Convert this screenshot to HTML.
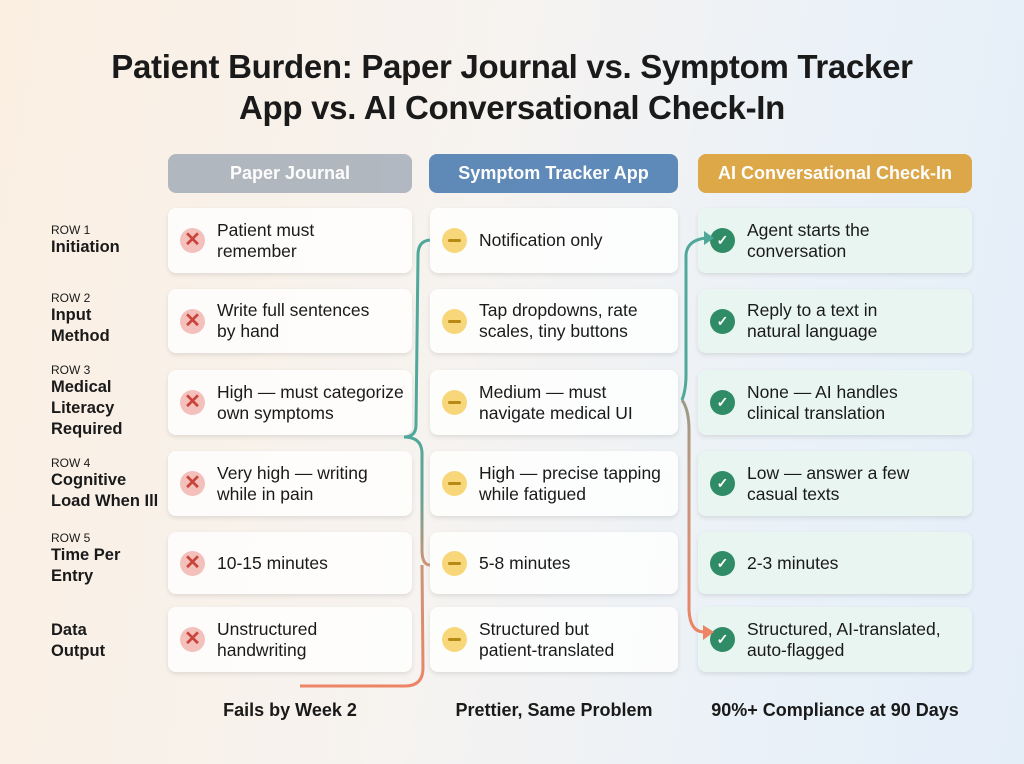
<!DOCTYPE html>
<html><head><meta charset="utf-8"><style>
*{margin:0;padding:0;box-sizing:border-box}
body{width:1024px;height:764px;overflow:hidden;font-family:"Liberation Sans",sans-serif;background:linear-gradient(100deg,#fbefe2 0%,#f6f3f0 45%,#eaf1f8 75%,#e4eef9 100%);position:relative;color:#1a1a1a}
.t{position:absolute;left:0;width:1024px;text-align:center;font-weight:bold;font-size:33px;line-height:41px;top:46px;letter-spacing:-0.3px}
.h{position:absolute;height:39px;border-radius:8px;color:#fff;font-weight:bold;font-size:18px;display:flex;align-items:center;justify-content:center;opacity:.9}
.c{position:absolute;border-radius:8px;background:rgba(255,255,255,.8);box-shadow:0 2px 5px rgba(0,0,0,.1);display:flex;align-items:center;font-size:17.5px;line-height:21px}
.c.g{background:rgba(232,246,240,.85)}
.i{width:25px;height:25px;border-radius:50%;margin:0 12px 0 12px;flex:none;display:flex;align-items:center;justify-content:center;font-weight:bold}
.x{background:#f4c0bb;color:#c9443a;font-size:20px}
.m{background:#f8d77a}
.m:after{content:"";width:13px;height:3px;background:#b88a14;border-radius:2px}
.k{background:#2f8c67;color:#fff;font-size:14px}
.l{position:absolute;left:51px;font-size:16.5px;font-weight:bold;line-height:21px}
.l small{display:block;font-size:12px;font-weight:normal;line-height:14px}
.f{position:absolute;top:700px;font-weight:bold;font-size:18px;text-align:center}
</style></head><body>
<div class="t">Patient Burden: Paper Journal vs. Symptom Tracker<br>App vs. AI Conversational Check-In</div>
<div class="h" style="left:168px;top:154px;width:244px;background:#a9b1bb">Paper Journal</div>
<div class="h" style="left:429px;top:154px;width:249px;background:#4f7fb3">Symptom Tracker App</div>
<div class="h" style="left:698px;top:154px;width:274px;background:#dba036">AI Conversational Check-In</div>

<div class="l" style="top:223px"><small>ROW 1</small>Initiation</div>
<div class="l" style="top:291px"><small>ROW 2</small>Input<br>Method</div>
<div class="l" style="top:363px"><small>ROW 3</small>Medical<br>Literacy<br>Required</div>
<div class="l" style="top:456px"><small>ROW 4</small>Cognitive<br>Load When Ill</div>
<div class="l" style="top:531px"><small>ROW 5</small>Time Per<br>Entry</div>
<div class="l" style="top:620px">Data<br>Output</div>

<div class="c" style="left:168px;top:208px;width:244px;height:65px"><span class="i x">✕</span>Patient must<br>remember</div>
<div class="c" style="left:168px;top:289px;width:244px;height:64px"><span class="i x">✕</span>Write full sentences<br>by hand</div>
<div class="c" style="left:168px;top:370px;width:244px;height:65px"><span class="i x">✕</span>High — must categorize<br>own symptoms</div>
<div class="c" style="left:168px;top:451px;width:244px;height:65px"><span class="i x">✕</span>Very high — writing<br>while in pain</div>
<div class="c" style="left:168px;top:532px;width:244px;height:62px"><span class="i x">✕</span>10-15 minutes</div>
<div class="c" style="left:168px;top:607px;width:244px;height:65px"><span class="i x">✕</span>Unstructured<br>handwriting</div>

<div class="c" style="left:430px;top:208px;width:248px;height:65px"><span class="i m"></span>Notification only</div>
<div class="c" style="left:430px;top:289px;width:248px;height:64px"><span class="i m"></span>Tap dropdowns, rate<br>scales, tiny buttons</div>
<div class="c" style="left:430px;top:370px;width:248px;height:65px"><span class="i m"></span>Medium — must<br>navigate medical UI</div>
<div class="c" style="left:430px;top:451px;width:248px;height:65px"><span class="i m"></span>High — precise tapping<br>while fatigued</div>
<div class="c" style="left:430px;top:532px;width:248px;height:62px"><span class="i m"></span>5-8 minutes</div>
<div class="c" style="left:430px;top:607px;width:248px;height:65px"><span class="i m"></span>Structured but<br>patient-translated</div>

<div class="c g" style="left:698px;top:208px;width:274px;height:65px"><span class="i k">✓</span>Agent starts the<br>conversation</div>
<div class="c g" style="left:698px;top:289px;width:274px;height:64px"><span class="i k">✓</span>Reply to a text in<br>natural language</div>
<div class="c g" style="left:698px;top:370px;width:274px;height:65px"><span class="i k">✓</span>None — AI handles<br>clinical translation</div>
<div class="c g" style="left:698px;top:451px;width:274px;height:65px"><span class="i k">✓</span>Low — answer a few<br>casual texts</div>
<div class="c g" style="left:698px;top:532px;width:274px;height:62px"><span class="i k">✓</span>2-3 minutes</div>
<div class="c g" style="left:698px;top:607px;width:274px;height:65px"><span class="i k">✓</span>Structured, AI-translated,<br>auto-flagged</div>

<svg width="1024" height="764" style="position:absolute;left:0;top:0">
<defs><linearGradient id="g1" gradientUnits="userSpaceOnUse" x1="0" y1="437" x2="0" y2="686"><stop offset="0" stop-color="#4fa89a"/><stop offset=".25" stop-color="#6aa294"/><stop offset=".5" stop-color="#c9957a"/><stop offset="1" stop-color="#ec8465"/></linearGradient>
<linearGradient id="g2" gradientUnits="userSpaceOnUse" x1="0" y1="400" x2="0" y2="632"><stop offset="0" stop-color="#9a9a85"/><stop offset=".4" stop-color="#c9957a"/><stop offset="1" stop-color="#ec8465"/></linearGradient></defs>
<path d="M404 437 Q416 437 416 425 L418 255 Q418 241 430 240" fill="none" stroke="#4fa89a" stroke-width="3"/>
<path d="M404 437 Q421 437 422 452 L422 550 Q422 565 430 565 M422 565 L423 668 Q423 686 405 686 L300 686" fill="none" stroke="url(#g1)" stroke-width="3"/>
<path d="M682 400 Q686 390 686 375 L686 255 Q687 240 706 238" fill="none" stroke="#4fa89a" stroke-width="3"/>
<polygon points="714,238 704,231 704,245" fill="#4fa89a"/>
<path d="M682 400 Q689 410 689 430 L689 610 Q690 632 704 632" fill="none" stroke="url(#g2)" stroke-width="3"/>
<polygon points="714,632 703,625 703,640" fill="#ec8465"/>
</svg>

<div class="f" style="left:168px;width:244px">Fails by Week 2</div>
<div class="f" style="left:430px;width:248px">Prettier, Same Problem</div>
<div class="f" style="left:698px;width:274px">90%+ Compliance at 90 Days</div>
</body></html>
